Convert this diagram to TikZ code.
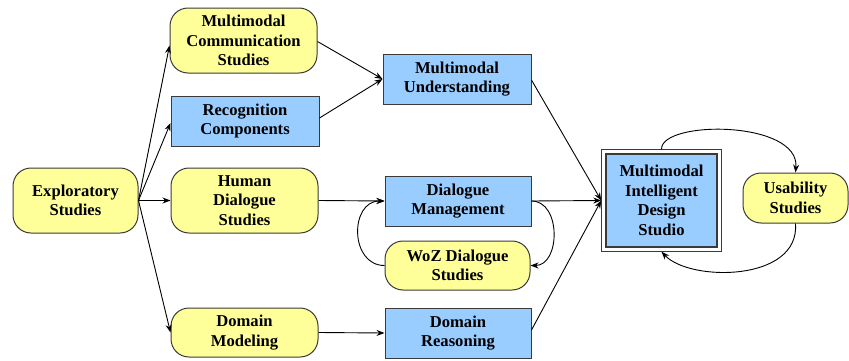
\documentclass[tikz,border=0pt]{standalone}
\usepackage{fontspec}
\setmainfont{Liberation Serif}
\usetikzlibrary{arrows.meta}
\definecolor{yel}{HTML}{FFFF99}
\definecolor{blu}{HTML}{99CCFF}
\definecolor{edge}{HTML}{3A3A3A}
\tikzset{
  base/.style={draw=edge, line width=1pt, align=center, inner sep=2pt,
    font=\fontsize{16.6}{19.6}\selectfont\bfseries},
  ybox/.style={base, fill=yel, rounded corners=18pt},
  bbox/.style={base, fill=blu},
  conn/.style={line width=0.9pt, -{Stealth[length=8pt,width=6pt]}}
}
\begin{document}
\begin{tikzpicture}[x=1pt,y=1pt]
\useasboundingbox (0,0) rectangle (849,360);
\node[ybox, minimum width=125, minimum height=65] (es) at (75.5,159.5) {Exploratory\\Studies};
\node[ybox, minimum width=147, minimum height=65] (mcs) at (243.5,319.5) {Multimodal\\Communication\\Studies};
\node[bbox, minimum width=148, minimum height=50] (rc) at (245,239) {Recognition\\Components};
\node[ybox, minimum width=147, minimum height=65] (hds) at (244.5,159.5) {Human\\Dialogue\\Studies};
\node[ybox, minimum width=147, minimum height=49] (dom) at (244.5,27.5) {Domain\\Modeling};
\node[bbox, minimum width=148, minimum height=50] (mu) at (457,281) {Multimodal\\Understanding};
\node[bbox, minimum width=146, minimum height=50] (dia) at (458,159) {Dialogue\\Management};
\node[ybox, minimum width=145, minimum height=49] (woz) at (457.5,94.5) {WoZ Dialogue\\Studies};
\node[bbox, minimum width=146, minimum height=50] (dr) at (458,27) {Domain\\Reasoning};
\node[bbox, line width=1.5pt, minimum width=111, minimum height=93] (mids) at (661.5,159.5) {Multimodal\\Intelligent\\Design\\Studio};
\draw[draw=edge, line width=0.9pt] ([shift={(-4,4)}]mids.north west) rectangle ([shift={(4,-4)}]mids.south east);
\node[ybox, minimum width=105, minimum height=50] (us) at (795.5,162) {Usability\\Studies};

\draw[conn] (es.east) -- ([yshift=-5]mcs.west);
\draw[conn] (es.east) -- ([yshift=-2]rc.west);
\draw[conn] (es.east) -- (hds.west);
\draw[conn] (es.east) -- (dom.west);
\draw[conn] ([yshift=-1]mcs.east) -- (mu.west);
\draw[conn] ([yshift=3]rc.east) -- (mu.west);
\draw[conn] (hds.east) -- (dia.west);
\draw[conn] (dom.east) -- (dr.west);
\draw[conn] ([yshift=-1]mu.east) -- ([xshift=-4]mids.west);
\draw[conn] (dia.east) -- ([xshift=-4]mids.west);
\draw[conn] ([yshift=3]dr.east) -- ([xshift=-4]mids.west);
\draw[conn] (dia.east) .. controls +(30,0) and +(30,0) .. (woz.east);
\draw[conn] (woz.west) .. controls +(-35,0) and +(-35,0) .. (dia.west);
\coordinate (mt) at ([yshift=4]mids.north);
\coordinate (mb) at ([yshift=-4]mids.south);
\draw[conn] (mt) .. controls (661,240) and (800,240) .. (us.north);
\draw[conn] (us.south) .. controls (800,78) and (690,78) .. (mb);
\end{tikzpicture}
\end{document}
